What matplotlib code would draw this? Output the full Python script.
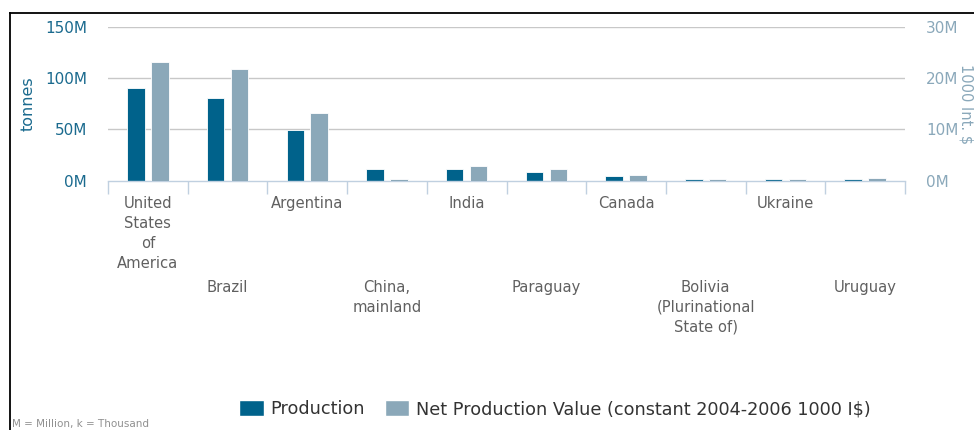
import matplotlib
matplotlib.use("Agg")
import matplotlib.pyplot as plt
import matplotlib.transforms as mtransforms
from matplotlib.lines import Line2D
from matplotlib.patches import Patch
import numpy as np

# ---- data ----
categories = ["United\nStates\nof\nAmerica", "Brazil", "Argentina", "China,\nmainland",
              "India", "Paraguay", "Canada", "Bolivia\n(Plurinational\nState of)",
              "Ukraine", "Uruguay"]
production = [90.5e6, 80.8e6, 49.0e6, 11.3e6, 11.3e6, 8.3e6, 4.4e6, 1.6e6, 1.6e6, 1.6e6]  # tonnes
net_value = [23.1e6, 21.7e6, 13.1e6, 0.33e6, 2.85e6, 2.25e6, 1.15e6, 0.27e6, 0.27e6, 0.58e6]  # 1000 I$
left_ticks = [0, 50e6, 100e6, 150e6]
right_ticks = [0, 10e6, 20e6, 30e6]

PROD_C = "#00628B"
NET_C = "#8BA8B9"
LEFT_TXT = "#1A6A8E"
RIGHT_TXT = "#8AA8BA"
CAT_TXT = "#606060"
GRID_C = "#C8C8C8"
AXIS_C = "#C0D0E0"

W, H = 974, 430
fig = plt.figure(figsize=(W / 100, H / 100), dpi=100)
ax_left, ax_right = 108 / W, 905 / W
ax_top, ax_bot = 1 - 26.7 / H, 1 - 180.7 / H
ax = fig.add_axes([ax_left, ax_bot, ax_right - ax_left, ax_top - ax_bot])
ax2 = ax.twinx()

x = np.arange(len(categories))
bw = 0.22
ax.bar(x - 0.15, production, width=bw, color=PROD_C, edgecolor="white", linewidth=0.6, zorder=3)
ax2.bar(x + 0.15, net_value, width=bw, color=NET_C, edgecolor="white", linewidth=0.6, zorder=3)

ax.set_xlim(-0.5, len(categories) - 0.5)
ax.set_ylim(0, 150e6)
ax2.set_ylim(0, 30e6)
ax.set_yticks(left_ticks)
ax2.set_yticks(right_ticks)
ax.set_yticklabels([f"{int(v / 1e6)}M" for v in left_ticks])
ax2.set_yticklabels([f"{int(v / 1e6)}M" for v in right_ticks])

for t in left_ticks[1:]:
    ax.axhline(t, color=GRID_C, linewidth=1.0, zorder=1)

for a in (ax, ax2):
    for s in ("top", "left", "right"):
        a.spines[s].set_visible(False)
ax2.spines["bottom"].set_visible(False)
ax.spines["bottom"].set_color(AXIS_C)
ax.spines["bottom"].set_linewidth(1.0)
ax.spines["bottom"].set_zorder(4)

ax.tick_params(axis="y", length=0, pad=15, labelsize=11, labelcolor=LEFT_TXT)
ax2.tick_params(axis="y", length=0, pad=15, labelsize=11, labelcolor=RIGHT_TXT)
ax.set_xticks(np.arange(-0.5, len(categories), 1.0))
ax.set_xticklabels([])
ax.tick_params(axis="x", length=9.5, width=1.0, color=AXIS_C, direction="out")

ax.set_ylabel("tonnes", fontsize=11.5, color=LEFT_TXT)
ax.yaxis.set_label_coords(-(108 - 36) / (ax_right - ax_left) / W, 0.5)

# category labels, staggered like the reference
trans = ax.get_xaxis_transform()
for i, lab in enumerate(categories):
    off = 15 if i % 2 == 0 else 99
    tr = mtransforms.offset_copy(trans, fig=fig, y=-off, units="dots")
    ax.text(i, 0, lab, transform=tr, ha="center", va="top", fontsize=10.6,
            color=CAT_TXT, linespacing=1.42, multialignment="center")

# right axis title
fig.text(966 / W, 1 - 104 / H, "1000 Int. $", rotation=270, ha="center", va="center",
         fontsize=10.5, color=RIGHT_TXT)

# legend
handles = [Patch(facecolor=PROD_C, edgecolor="white"),
           Patch(facecolor=NET_C, edgecolor="white")]
leg = fig.legend(handles, ["Production", "Net Production Value (constant 2004-2006 1000 I$)"],
                 loc="center", bbox_to_anchor=(555 / W, 1 - 409 / H), ncol=2, frameon=False,
                 fontsize=12.7, handlelength=1.4, handleheight=1.05, handletextpad=0.4,
                 columnspacing=1.1, borderaxespad=0)
for t in leg.get_texts():
    t.set_color("#333333")

fig.text(12 / W, 1 - 419 / H, "M = Million, k = Thousand", ha="left", va="top",
         fontsize=7.5, color="#909090")

# frame lines of the screenshot
fig.add_artist(Line2D([10 / W, 1], [1 - 13 / H, 1 - 13 / H], color="black", linewidth=1.3,
                      transform=fig.transFigure))
fig.add_artist(Line2D([10 / W, 10 / W], [0, 1 - 13 / H], color="black", linewidth=1.3,
                      transform=fig.transFigure))

fig.savefig("out.png", dpi=100)
